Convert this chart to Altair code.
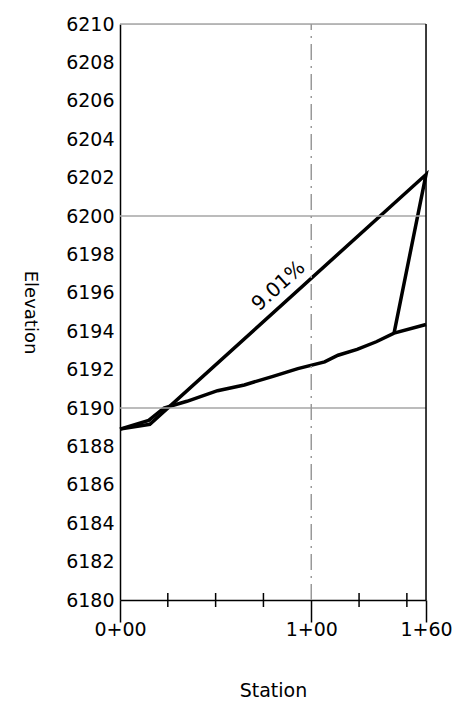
import altair as alt
import pandas as pd

# ---- data ----
ground_station = [0, 15, 23, 35, 51, 65, 80, 93, 107, 114, 124, 134, 143.3, 160]
ground_elev = [6188.9, 6189.35, 6190.0, 6190.35, 6190.9, 6191.2, 6191.65, 6192.05,
               6192.4, 6192.75, 6193.05, 6193.45, 6193.9, 6194.35]

cut_station = [0, 15.6, 160, 143.3]
cut_elev = [6188.9, 6189.15, 6202.16, 6193.9]

grid_elev = [6190, 6200, 6210]
center_station = [100]
border_station = [160]
minor_ticks = [25, 50, 75, 125, 150]
major_ticks = [0, 100, 160]
y_ticks = list(range(6180, 6211, 2))

grade_label = ["9.01%"]
grade_station = [82.9]
grade_elev = [6196.35]

W, H = 306, 576
FONT = "DejaVu Sans"

lines = pd.DataFrame(
    [{"s": s, "e": e, "series": "ground", "i": i} for i, (s, e) in enumerate(zip(ground_station, ground_elev))]
    + [{"s": s, "e": e, "series": "cut", "i": i} for i, (s, e) in enumerate(zip(cut_station, cut_elev))]
)

xscale = alt.Scale(domain=[0, 160], nice=False, zero=False)
yscale = alt.Scale(domain=[6180, 6210], nice=False, zero=False)

xaxis = alt.Axis(
    values=major_ticks,
    labelExpr="floor(datum.value/100) + '+' + ((datum.value % 100) < 10 ? '0' : '') + (datum.value % 100)",
    grid=False, tickSize=22, tickWidth=1.5, tickColor="black",
    domainColor="black", domainWidth=1.5,
    labelFont=FONT, labelFontSize=19, labelColor="black", labelPadding=-2,
    labelFlush=False, labelOverlap=False, labelBound=False,
    title="Station", titleFont=FONT, titleFontSize=19, titleFontWeight="normal",
    titleColor="black", titlePadding=42,
)
yaxis = alt.Axis(
    values=y_ticks, format="d", grid=False, ticks=False,
    domainColor="black", domainWidth=1.5,
    labelFont=FONT, labelFontSize=19, labelColor="black", labelPadding=6,
    labelFlush=False, labelOverlap=False, labelBound=False,
    title="Elevation", titleFont=FONT, titleFontSize=18, titleFontWeight="normal",
    titleColor="black", titleAngle=90, titleBaseline="top", titlePadding=27,
)


def X(field):
    return alt.X(field, scale=xscale, axis=xaxis, title="Station")


def Y(field):
    return alt.Y(field, scale=yscale, axis=yaxis, title="Elevation")


base_lines = alt.Chart(lines).mark_line(color="black", strokeWidth=3.5, strokeJoin="miter").encode(
    x=X("s:Q"), y=Y("e:Q"), detail="series:N", order="i:Q",
)

grid = alt.Chart(pd.DataFrame({"e": grid_elev})).mark_rule(color="#a6a6a6", strokeWidth=1.5).encode(
    y=Y("e:Q"), x=alt.value(0), x2=alt.value(W)
)

center = alt.Chart(pd.DataFrame({"s": center_station, "y1": [6180], "y2": [6210]})).mark_rule(
    color="#999999", strokeWidth=1.5, strokeDash=[16, 6, 2, 6]
).encode(x=X("s:Q"), y=Y("y1:Q"), y2="y2:Q")

border = alt.Chart(pd.DataFrame({"s": border_station, "y1": [6180], "y2": [6210]})).mark_rule(
    color="black", strokeWidth=1.5
).encode(x=X("s:Q"), y=Y("y1:Q"), y2="y2:Q")

minor = alt.Chart(pd.DataFrame({"s": minor_ticks})).mark_rule(color="black", strokeWidth=1.5).encode(
    x=X("s:Q"), y=alt.value(H - 7), y2=alt.value(H + 7)
)

label = alt.Chart(pd.DataFrame({"t": grade_label, "s": grade_station, "e": grade_elev})).mark_text(
    font=FONT, fontSize=20, color="black", angle=318, align="center", baseline="middle"
).encode(x=X("s:Q"), y=Y("e:Q"), text="t:N")

chart = alt.layer(base_lines, grid, center, border, minor, label).properties(
    width=W, height=H,
    autosize=alt.AutoSizeParams(type="none"),
    padding={"left": 112, "top": 16, "right": 27, "bottom": 100},
).configure_view(stroke=None).configure(background="white")

chart.save("out.html", embed_options={"renderer": "svg", "actions": False})
